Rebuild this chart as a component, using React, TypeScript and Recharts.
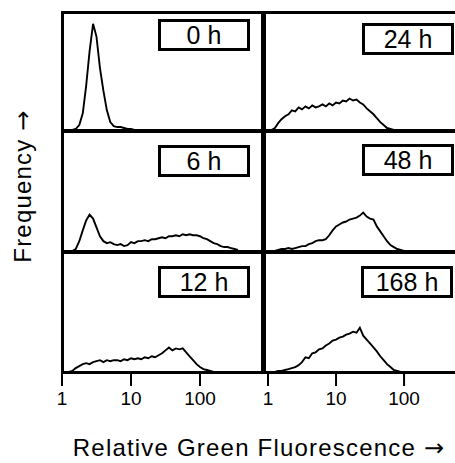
import { LineChart, Line, XAxis, YAxis } from 'recharts'

// fluorescence channels (log spaced, 20 per decade)
const bins = [1, 1.12, 1.26, 1.41, 1.58, 1.78, 2, 2.24, 2.51, 2.82, 3.16, 3.55, 3.98, 4.47, 5.01, 5.62, 6.31, 7.08, 7.94, 8.91, 10, 11.2, 12.6, 14.1, 15.8, 17.8, 20, 22.4, 25.1, 28.2, 31.6, 35.5, 39.8, 44.7, 50.1, 56.2, 63.1, 70.8, 79.4, 89.1, 100, 112, 126, 141, 158, 178, 200, 224, 251, 282, 316, 355]

const counts0h = [0, 0, 0, 0, 1, 5, 17, 45, 80, 108, 95, 63, 40, 20, 8, 4, 3, 3, 2, 1, 1, 0, 0, 0, 0, 0, 0, 0, 0, 0, 0, 0, 0, 0, 0, 0, 0, 0, 0, 0, 0, 0, 0, 0, 0, 0, 0, 0, 0, 0, 0, 0]
const counts6h = [0, 0, 0, 0, 2, 10, 21, 31, 37, 33, 24, 15, 10, 8, 9, 7, 6, 7, 5, 6, 9, 8, 10, 10, 11, 10, 12, 12, 13, 14, 13, 15, 15, 16, 15, 17, 16, 17, 16, 16, 15, 13, 12, 10, 8, 7, 5, 4, 4, 3, 2, 1]
const counts12h = [0, 0, 0, 1, 4, 6, 8, 9, 8, 10, 11, 12, 10, 12, 11, 12, 12, 11, 13, 12, 14, 13, 14, 13, 15, 14, 16, 15, 17, 19, 22, 25, 22, 24, 23, 24, 20, 16, 12, 8, 5, 3, 2, 1, 0, 0, 0, 0, 0, 0, 0, 0]
const counts24h = [0, 0, 2, 7, 11, 14, 16, 20, 19, 23, 21, 24, 22, 25, 23, 24, 26, 24, 27, 25, 28, 27, 30, 29, 32, 30, 31, 28, 26, 22, 19, 16, 12, 8, 5, 2, 1, 0, 0, 0, 0, 0, 0, 0, 0, 0, 0, 0, 0, 0, 0, 0]
const counts48h = [0, 0, 0, 1, 2, 2, 3, 2, 3, 4, 5, 5, 7, 8, 10, 11, 11, 12, 16, 21, 25, 27, 29, 30, 32, 33, 34, 36, 39, 35, 33, 32, 25, 20, 15, 10, 6, 4, 2, 1, 0, 0, 0, 0, 0, 0, 0, 0, 0, 0, 0, 0]
const counts168h = [0, 0, 0, 1, 1, 2, 3, 4, 5, 7, 10, 15, 14, 19, 20, 23, 24, 27, 29, 32, 33, 35, 36, 38, 39, 41, 40, 45, 37, 33, 29, 25, 21, 16, 12, 8, 5, 2, 1, 0, 0, 0, 0, 0, 0, 0, 0, 0, 0, 0, 0, 0]

const hourLabels = ['0 h', '6 h', '12 h', '24 h', '48 h', '168 h']
const xTicks = [1, 10, 100]
const yTicks = [20, 40, 60, 80, 100]

const font = '"Liberation Sans", Arial, Helvetica, sans-serif'
const arrowFont = '"DejaVu Sans", sans-serif'

interface PanelProps {
  left: number
  top: number
  domain: [number, number]
  values: number[]
  label: string
  boxLeft: number
  boxTop: number
  axis?: boolean
}

const PW = 200
const PH = 118
const PAD = 14

function Panel({ left, top, domain, values, label, boxLeft, boxTop, axis }: PanelProps) {
  const data = bins.map((x, i) => ({ x, y: values[i] }))
  const axisH = axis ? 40 : 0
  return (
    <>
      <div style={{ position: 'absolute', left: left - PAD, top, width: PW + 2 * PAD, height: PH + axisH }}>
        <LineChart width={PW + 2 * PAD} height={PH + axisH} data={data} margin={{ top: 0, right: PAD, bottom: 0, left: PAD }}>
          <XAxis
            dataKey="x"
            type="number"
            scale="log"
            domain={domain}
            allowDataOverflow
            ticks={xTicks}
            interval={0}
            hide={!axis}
            height={axisH}
            axisLine={false}
            tickSize={14}
            tickMargin={6}
            tickLine={{ stroke: '#000', strokeWidth: 2 }}
            tick={{ fontSize: 19, fill: '#000', fontFamily: font }}
          />
          <YAxis
            domain={[0, 120]}
            allowDataOverflow
            ticks={yTicks}
            width={0}
            mirror
            axisLine={false}
            tickSize={4}
            tickLine={{ stroke: '#000', strokeWidth: 1.5 }}
            tickFormatter={() => ''}
          />
          <Line dataKey="y" type="linear" stroke="#000" strokeWidth={1.9} dot={false} isAnimationActive={false} />
        </LineChart>
      </div>
      <div
        style={{
          position: 'absolute', left: boxLeft, top: boxTop, width: 92, height: 32,
          boxSizing: 'border-box', border: '3px solid #000', background: '#fff',
          display: 'flex', alignItems: 'center', justifyContent: 'center',
          fontFamily: font, fontSize: 25, color: '#000', lineHeight: 1,
        }}
      >
        {label}
      </div>
    </>
  )
}

const line = (left: number, top: number, width: number, height: number) => (
  <div style={{ position: 'absolute', left, top, width, height, background: '#000' }} />
)

export default function App() {
  const leftDomain: [number, number] = [1, 792]
  const rightDomain: [number, number] = [0.903, 787]
  return (
    <div style={{ position: 'absolute', left: 0, top: 0, width: 455, height: 463, overflow: 'hidden', background: '#fff' }}>
      <Panel left={62} top={12} domain={leftDomain} values={counts0h} label={hourLabels[0]} boxLeft={158} boxTop={19} />
      <Panel left={62} top={133} domain={leftDomain} values={counts6h} label={hourLabels[1]} boxLeft={158} boxTop={145} />
      <Panel left={62} top={254} domain={leftDomain} values={counts12h} label={hourLabels[2]} boxLeft={158} boxTop={266} axis />
      <Panel left={265} top={12} domain={rightDomain} values={counts24h} label={hourLabels[3]} boxLeft={362} boxTop={23} />
      <Panel left={265} top={133} domain={rightDomain} values={counts48h} label={hourLabels[4]} boxLeft={362} boxTop={144} />
      <Panel left={265} top={254} domain={rightDomain} values={counts168h} label={hourLabels[5]} boxLeft={361} boxTop={266} axis />

      {line(61, 11, 400, 3)}
      {line(61, 11, 3, 363)}
      {line(61, 371, 400, 3)}
      {line(61, 129, 400, 4)}
      {line(61, 250, 400, 4)}
      {line(261, 11, 5, 363)}

      <svg width={455} height={463} style={{ position: 'absolute', left: 0, top: 0, pointerEvents: 'none' }}>
        <text x={259} y={456} textAnchor="middle" fontSize={24} letterSpacing={1.2} fontFamily={font} fill="#000">
          Relative Green Fluorescence <tspan fontFamily={arrowFont} fontSize={24}>→</tspan>
        </text>
        <text transform="translate(31,186) rotate(-90)" textAnchor="middle" fontSize={24} letterSpacing={1.2} fontFamily={font} fill="#000">
          Frequency <tspan fontFamily={arrowFont} fontSize={24}>→</tspan>
        </text>
      </svg>
    </div>
  )
}
